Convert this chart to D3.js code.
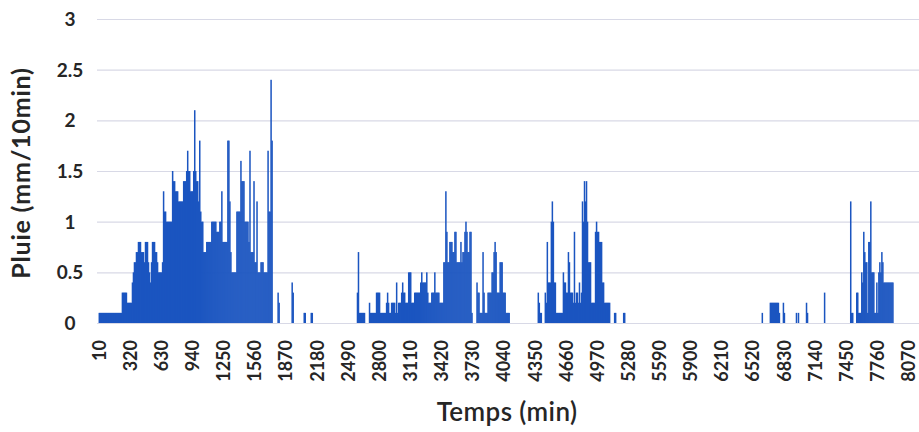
<!DOCTYPE html>
<html><head><meta charset="utf-8">
<script src="https://cdn.jsdelivr.net/npm/d3@7/dist/d3.min.js"></script>
<style>
body{margin:0;background:#fff;}
svg{display:block;}
text{font-family:Lato,"Open Sans",sans-serif;fill:#262626;}
</style>
</head><body>
<svg id="chart" width="919" height="432"></svg>
<script>
// Rain per 10-minute step (mm), one value per category 10..8070 min (31 per row)
const rain = [
.1,.1,.1,.1,.1,.1,.1,.1,.1,.1,.1,.1,.1,.1,.1,.1,.1,.1,.1,.1,.1,.1,.1,.3,.3,.3,.3,.3,.2,.2,.2,
.2,.2,.4,.5,.6,.6,.7,.7,.8,.8,.8,.7,.7,.7,.6,.8,.8,.8,.6,.5,.4,.6,.8,.8,.8,.7,.7,.6,.5,.5,.5,
.5,.6,1.3,1.1,1.1,1.0,1.0,1.0,1.0,1.0,1.0,1.5,1.4,1.4,1.3,1.3,1.3,1.2,1.2,1.2,1.2,1.2,1.4,1.4,1.4,1.5,1.7,1.5,1.5,1.3,1.3,
1.3,1.5,2.1,1.5,1.4,1.4,1.2,1.8,1.1,1.0,1.0,.7,.7,.7,.8,.8,.8,.8,.8,1.0,1.0,1.0,1.0,1.0,.9,.9,.9,1.0,1.0,1.3,.8,
.8,.8,.8,.8,1.8,1.8,1.2,.7,.5,.5,.5,.5,.5,1.1,1.1,1.1,1.1,1.6,1.4,1.4,1.4,1.0,1.0,1.0,1.0,.8,1.7,.7,.7,.7,1.4,
.6,.6,1.2,.5,.5,.5,.6,.6,.6,.5,.5,.5,.5,1.7,1.1,1.1,2.4,1.8,0,0,0,0,0,.3,.2,0,0,0,0,0,0,
0,0,0,0,0,0,.4,.3,0,0,0,0,0,0,0,0,0,0,.1,.1,0,0,0,0,0,.1,.1,0,0,0,0,
0,0,0,0,0,0,0,0,0,0,0,0,0,0,0,0,0,0,0,0,0,0,0,0,0,0,0,0,0,0,0,
0,0,0,0,0,0,0,0,0,.3,.7,.1,.1,.1,.1,.1,.1,0,0,0,0,.2,.1,.1,.1,.1,.1,.1,.3,.3,.3,
.3,.1,.1,.1,.1,.1,.1,.2,.3,.2,.1,.1,.2,.2,.2,.2,.1,.4,.1,.2,.2,.2,.3,.4,.3,.3,.2,.2,.2,.5,.5,
.5,.2,.2,.2,.3,.3,.3,.3,.3,.3,.4,.5,.4,.4,.4,.4,.5,.3,.2,.2,.2,.3,.3,.3,.5,.3,.3,.3,.3,.2,.2,
.2,.2,.6,.6,1.3,.9,.6,.6,.8,.8,.8,.7,.7,.9,.9,.6,.6,.6,.6,.8,.6,.7,.7,.9,1.0,.9,.7,.7,.9,.9,.1,
0,0,0,0,.4,.3,.3,.1,.1,.1,.7,.3,.1,.1,.1,.3,.3,.3,.3,.5,.5,.7,.8,.7,.3,.3,.3,.6,.6,.6,.3,
.3,.3,.1,.1,.1,.1,0,0,0,0,0,0,0,0,0,0,0,0,0,0,0,0,0,0,0,0,0,0,0,0,0,
0,0,0,.3,.2,.1,.1,0,0,0,.3,.2,.8,.4,.4,.4,1.0,1.2,1.0,.4,.4,.1,.1,.1,.1,.1,.1,.1,.5,.4,.4,
.3,.3,.7,.6,.3,.3,.3,.2,.9,.2,.3,.3,.2,.4,.2,.3,1.2,1.0,1.4,1.2,1.4,1.0,.6,.6,.6,.2,.2,.2,.2,.9,1.0,
.9,.9,.8,.8,.8,.4,.4,.2,.2,.2,.2,.2,.2,0,0,0,0,.1,.1,0,0,0,0,0,0,0,.1,.1,0,0,0,
0,0,0,0,0,0,0,0,0,0,0,0,0,0,0,0,0,0,0,0,0,0,0,0,0,0,0,0,0,0,0,
0,0,0,0,0,0,0,0,0,0,0,0,0,0,0,0,0,0,0,0,0,0,0,0,0,0,0,0,0,0,0,
0,0,0,0,0,0,0,0,0,0,0,0,0,0,0,0,0,0,0,0,0,0,0,0,0,0,0,0,0,0,0,
0,0,0,0,0,0,0,0,0,0,0,0,0,0,0,0,0,0,0,0,0,0,0,0,0,0,0,0,0,0,0,
0,0,0,0,0,0,0,0,0,.1,0,0,0,0,0,0,0,.2,.2,.2,.2,.2,.2,.2,.2,.2,.1,0,0,0,.2,
.1,0,0,0,0,0,0,0,0,0,0,0,.1,0,.1,0,0,0,0,0,0,0,.2,.1,0,0,0,0,0,0,0,
0,0,0,0,0,0,0,0,0,.3,0,0,0,0,0,0,0,0,0,0,0,0,0,0,0,0,0,0,0,0,0,
0,0,0,0,1.2,.1,.1,0,0,0,.3,.3,.1,.1,.1,.5,.4,.9,.7,.6,.6,.1,.8,.8,1.2,.5,.5,.5,.1,.1,.4,
.1,.5,.6,.5,.7,.6,.4,.4,.4,.4,.4,.4,.4,.4,.4,.4,0,0,0,0,0,0,0,0,0,0,0,0,0,0,0,
0
];
// Category labels (min): 10, 20, ... one per bar
const times = rain.map((_, i) => String(10 + 10 * i));
const tickLabels = ["10","320","630","940","1250","1560","1870","2180","2490","2800","3110","3420","3730","4040","4350","4660","4970","5280","5590","5900","6210","6520","6830","7140","7450","7760","8070"];
const yTicks = [0, 0.5, 1, 1.5, 2, 2.5, 3];
const yTickLabels = ["0","0.5","1","1.5","2","2.5","3"];
const xTitle = "Temps (min)";
const yTitle = "Pluie (mm/10min)";

const svg = d3.select("#chart");
const x = d3.scaleBand().domain(times).range([98.7, 909.4]).paddingInner(0).paddingOuter(0);
const y = d3.scaleLinear().domain([0, 3]).range([323, 19]);

// gridlines
svg.append("g").selectAll("line").data(yTicks).join("line")
  .attr("x1", 97).attr("x2", 919)
  .attr("y1", d => y(d) + 0.5).attr("y2", d => y(d) + 0.5)
  .attr("stroke", "#d8d9e6").attr("stroke-width", 1.2);

// bars (slightly overlapped so adjacent bars read as a solid mass)
svg.append("g").selectAll("rect").data(rain.map((v, i) => ({t: times[i], v})).filter(d => d.v > 0)).join("rect")
  .attr("x", d => x(d.t) - 0.15)
  .attr("width", x.bandwidth() + 0.5)
  .attr("y", d => y(d.v))
  .attr("height", d => y(0) - y(d.v))
  .attr("fill", "#1b55c0");

// y tick labels
svg.append("g").selectAll("text").data(yTicks).join("text")
  .attr("x", 70).attr("y", d => y(d)).attr("dy", "0.36em")
  .attr("text-anchor", "middle")
  .attr("font-size", 19).attr("font-weight", 700)
  .text((d, i) => yTickLabels[i]);

// x tick labels
svg.append("g").selectAll("text").data(tickLabels).join("text")
  .attr("transform", d => `translate(${x(d) + x.bandwidth() / 2},340) rotate(-90)`)
  .attr("dy", "0.35em")
  .attr("text-anchor", "end")
  .attr("font-size", 18).attr("font-weight", 700)
  .text(d => d);

// axis titles
svg.append("text")
  .attr("x", 507).attr("y", 412).attr("dy", "0.36em")
  .attr("text-anchor", "middle")
  .attr("font-size", 26).attr("font-weight", 600)
  .attr("letter-spacing", 0.4)
  .text(xTitle);
svg.append("text")
  .attr("transform", "translate(21,173) rotate(-90)")
  .attr("dy", "0.36em")
  .attr("text-anchor", "middle")
  .attr("font-size", 25).attr("font-weight", 700)
  .attr("letter-spacing", 0.8)
  .text(yTitle);
</script>
</body></html>
